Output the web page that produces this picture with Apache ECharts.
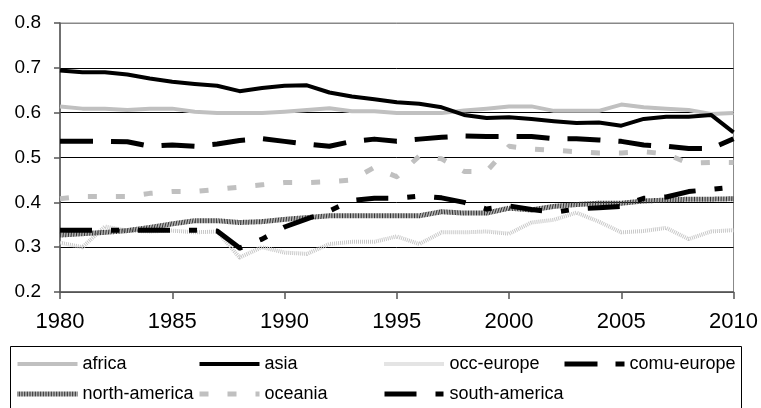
<!DOCTYPE html>
<html>
<head>
<meta charset="utf-8">
<script src="https://cdn.jsdelivr.net/npm/echarts@6/dist/echarts.min.js"></script>
<style>
  html, body { margin: 0; padding: 0; background: #fff; }
  #chart { width: 761px; height: 408px; }
</style>
</head>
<body>
<div id="chart"></div>
<script>
// Years on the horizontal axis
const years = [];
for (let y = 1980; y <= 2010; y++) years.push(String(y));

// Regional values, 1980–2010
const africa = [0.614, 0.609, 0.609, 0.606, 0.609, 0.609, 0.602, 0.599, 0.599, 0.599,
  0.602, 0.606, 0.610, 0.603, 0.603, 0.599, 0.599, 0.599, 0.605, 0.609,
  0.614, 0.614, 0.604, 0.604, 0.604, 0.618, 0.612, 0.609, 0.606, 0.597, 0.599];
const asia = [0.694, 0.690, 0.690, 0.685, 0.676, 0.669, 0.664, 0.660, 0.648, 0.655,
  0.660, 0.661, 0.645, 0.636, 0.630, 0.623, 0.620, 0.612, 0.595, 0.588,
  0.590, 0.586, 0.581, 0.577, 0.578, 0.571, 0.586, 0.591, 0.591, 0.595, 0.556];
const occEurope = [0.310, 0.300, 0.346, 0.337, 0.335, 0.337, 0.333, 0.335, 0.277, 0.300,
  0.288, 0.285, 0.307, 0.312, 0.312, 0.324, 0.307, 0.333, 0.333, 0.335,
  0.330, 0.355, 0.361, 0.377, 0.357, 0.333, 0.336, 0.343, 0.318, 0.335, 0.338];
const comuEurope = [0.536, 0.536, 0.536, 0.535, 0.525, 0.528, 0.525, 0.530, 0.538, 0.542,
  0.536, 0.530, 0.525, 0.536, 0.541, 0.536, 0.541, 0.545, 0.548, 0.547,
  0.547, 0.547, 0.542, 0.542, 0.539, 0.536, 0.528, 0.525, 0.520, 0.520, 0.542];
const northAmerica = [0.327, 0.330, 0.333, 0.337, 0.344, 0.352, 0.359, 0.359, 0.355, 0.357,
  0.362, 0.366, 0.370, 0.370, 0.370, 0.370, 0.370, 0.379, 0.376, 0.376,
  0.387, 0.383, 0.391, 0.395, 0.398, 0.398, 0.403, 0.405, 0.407, 0.407, 0.408];
const oceania = [0.408, 0.413, 0.413, 0.413, 0.420, 0.424, 0.424, 0.429, 0.434, 0.439,
  0.444, 0.444, 0.446, 0.450, 0.478, 0.457, 0.503, 0.497, 0.469, 0.469,
  0.525, 0.519, 0.516, 0.513, 0.510, 0.510, 0.513, 0.508, 0.487, 0.489, 0.489];
const southAmerica = [0.338, 0.338, 0.338, 0.338, 0.338, 0.338, 0.338, 0.336, 0.298, 0.318,
  0.345, 0.363, 0.381, 0.404, 0.409, 0.409, 0.414, 0.410, 0.400, 0.385,
  0.392, 0.384, 0.378, 0.385, 0.388, 0.391, 0.409, 0.412, 0.424, 0.429, 0.434];

// Y axis range and step
const yMin = 0.2, yMax = 0.8, yStep = 0.1;

const FONT = '"Liberation Sans", Arial, sans-serif';

function line(name, data, color, width, type) {
  return {
    name, type: 'line', data,
    symbol: 'none', smooth: false,
    lineStyle: { color, width, type, cap: 'butt', join: 'round' },
    itemStyle: { color },
    emphasis: { disabled: true },
    animation: false
  };
}

// One legend per column so the entries line up in a grid
function legendCol(left, names) {
  return {
    type: 'plain', orient: 'vertical', left, top: 355,
    padding: 0,
    data: names,
    itemWidth: 60, itemHeight: 14, itemGap: 12,
    selectedMode: false,
    lineStyle: { width: 'inherit' },
    itemStyle: { color: 'rgba(0,0,0,0)', borderWidth: 0, opacity: 0 },
    textStyle: { fontFamily: FONT, fontSize: 18, color: '#000', lineHeight: 18 }
  };
}

const chart = echarts.init(document.getElementById('chart'), null, { renderer: 'canvas' });
chart.setOption({
  backgroundColor: '#fff',
  animation: false,
  grid: {
    left: 60, right: 27, top: 23, bottom: 116,
    show: true, borderColor: '#888', borderWidth: 1, backgroundColor: '#fff'
  },
  xAxis: {
    type: 'category', data: years, boundaryGap: false,
    axisLine: { lineStyle: { color: '#555', width: 1.5 } },
    axisTick: { show: true, interval: 4, length: 7, lineStyle: { color: '#555', width: 1.5 } },
    axisLabel: { interval: 4, margin: 19, fontFamily: FONT, fontSize: 22, color: '#000' },
    splitLine: { show: false }
  },
  yAxis: {
    type: 'value', min: yMin, max: yMax, interval: yStep,
    axisLine: { show: true, lineStyle: { color: '#555', width: 1.5 } },
    axisTick: { show: true, length: 6, lineStyle: { color: '#555', width: 1.5 } },
    axisLabel: { margin: 19, fontFamily: FONT, fontSize: 19, color: '#000',
      formatter: v => v.toFixed(1) },
    splitLine: { show: true, lineStyle: { color: ['#555', '#000', '#000', '#000', '#000', '#000', '#888'], width: 1 } }
  },
  legend: [
    legendCol(15, ['africa', 'north-america']),
    legendCol(197, ['asia', 'oceania']),
    legendCol(382, ['occ-europe', 'south-america']),
    legendCol(562, ['comu-europe'])
  ],
  graphic: [{
    type: 'rect', silent: true, z: -1,
    shape: { x: 10.5, y: 346.5, width: 731, height: 80 },
    style: { fill: '#fff', stroke: '#000', lineWidth: 1 }
  }],
  series: [
    line('africa', africa, '#c0c0c0', 4, 'solid'),
    line('asia', asia, '#000', 4, 'solid'),
    line('occ-europe', occEurope, '#c8c8c8', 4, [1, 1]),
    line('comu-europe', comuEurope, '#000', 5, [33, 18]),
    line('north-america', northAmerica, '#333', 5, [1, 0.6]),
    line('oceania', oceania, '#c0c0c0', 5, [9, 19]),
    line('south-america', southAmerica, '#000', 5, [32, 19, 8, 19])
  ]
});
</script>
</body>
</html>
